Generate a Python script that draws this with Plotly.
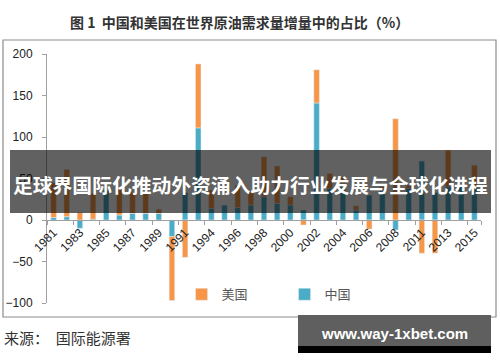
import plotly.graph_objects as go

years = ["1981", "1982", "1983", "1984", "1985", "1986", "1987", "1988", "1989", "1990",
         "1991", "1993", "1994", "1995", "1996", "1997", "1998", "1999", "2000", "2001",
         "2002", "2003", "2004", "2005", "2006", "2007", "2008", "2010", "2011", "2012",
         "2013", "2014", "2015"]
china = [3, 4, -10, 1, 36, 6, 8, 8, 8, -20,
         33, 111, 14, 18, 15, 18, 28, 20, 18, 12,
         141, 38, 44, 12, 30, 35, -12, 38, 71, 33,
         40, 42, 40]
usa = [42, 57, 9, 31, 0, 32, 26, 26, 5, -77,
       -45, 77, 22, 0, 27, 16, 48, 45, 10, -6,
       40, 18, 8, 5, -11, 5, 122, 4, -40, -40,
       44, 0, 26]
tick_labels = years[::2]
y_ticks = [200, 150, 100, 50, 0, -50, -100]

ORANGE = "#F79646"
BLUE = "#4BACC6"

fig = go.Figure()
fig.add_trace(go.Bar(x=years, y=china, name="中国", marker_color=BLUE, legendrank=2))
fig.add_trace(go.Bar(x=years, y=usa, name="美国", marker_color=ORANGE, legendrank=1))

font_family = "Noto Sans CJK SC, Liberation Sans, Arial, sans-serif"
num_font = "Liberation Sans, Arial, sans-serif"

fig.update_layout(
    width=500, height=362,
    margin=dict(l=47, r=19, t=54, b=59, autoexpand=False),
    paper_bgcolor="white", plot_bgcolor="white",
    barmode="relative", bargap=0.58,
    font=dict(family=font_family, size=11, color="#222"),
    showlegend=True,
    legend=dict(orientation="h", x=0.31, y=0.035, xanchor="left", yanchor="middle",
                font=dict(size=13, color="#555"), entrywidth=58, entrywidthmode="pixels",
                itemwidth=30, bgcolor="rgba(0,0,0,0)"),
    xaxis=dict(type="category", tickvals=tick_labels, ticktext=tick_labels,
               tickangle=-45, anchor="free", position=1/3, automargin=False,
               showline=True, linecolor="#a0a0a0", linewidth=1,
               ticks="outside", ticklen=4, tickcolor="#a0a0a0", tickson="boundaries",
               showgrid=False, zeroline=False,
               tickfont=dict(size=12, color="#222", family=num_font)),
    yaxis=dict(range=[-100, 200], tickvals=y_ticks, showline=True, linecolor="#a0a0a0",
               linewidth=1, ticks="outside", ticklen=4, tickcolor="#a0a0a0",
               ticklabelstandoff=7, automargin=False,
               showgrid=False, zeroline=False,
               tickfont=dict(size=12, color="#222", family=num_font)),
)

shapes = [
    # outer chart border
    dict(type="rect", xref="paper", yref="paper", x0=-44/434, x1=1+15/434,
         y0=-14/249, y1=1+14/249, line=dict(color="#8c8c8c", width=1.2),
         fillcolor="rgba(0,0,0,0)", layer="below"),
    # banner overlay
    dict(type="rect", xref="paper", yref="paper", x0=-37/434, x1=1+10/434,
         y0=(303-213)/249, y1=(303-150)/249, line=dict(width=0),
         fillcolor="rgba(0,0,0,0.62)", layer="above"),
    # watermark box
    dict(type="rect", xref="paper", yref="paper", x0=(298-47)/434, x1=(491-47)/434,
         y0=(303-346)/249, y1=(303-315)/249, line=dict(width=0),
         fillcolor="#5f5f5f", layer="above"),
    dict(type="rect", xref="paper", yref="paper", x0=(298-47)/434, x1=(491-47)/434,
         y0=(303-353)/249, y1=(303-346)/249, line=dict(width=0),
         fillcolor="#000000", layer="above"),
]
fig.update_layout(shapes=shapes)

annotations = [
    dict(text="<b>图 1  中国和美国在世界原油需求量增量中的占比（%）</b>", xref="paper", yref="paper",
         x=(239-47)/434, y=(303-22)/249, showarrow=False, xanchor="center", yanchor="middle",
         font=dict(size=14, color="#333", family=font_family)),
    dict(text="<b>足球界国际化推动外资涌入助力行业发展与全球化进程</b>", xref="paper", yref="paper",
         x=(250-47)/434, y=(303-184)/249, showarrow=False, xanchor="center", yanchor="middle",
         font=dict(size=19.8, color="white", family=font_family)),
    dict(text="来源：  国际能源署", xref="paper", yref="paper",
         x=(2-47)/434, y=(303-337)/249, showarrow=False, xanchor="left", yanchor="middle",
         font=dict(size=15, color="#333", family=font_family)),
    dict(text="<b>www.way-1xbet.com</b>", xref="paper", yref="paper",
         x=(394-47)/434, y=(303-333)/249, showarrow=False, xanchor="center", yanchor="middle",
         font=dict(size=15, color="white", family=num_font)),
]
fig.update_layout(annotations=annotations)

fig.write_html("out.html", config={"displayModeBar": False},
               post_script="document.body.style.margin='0px';")
